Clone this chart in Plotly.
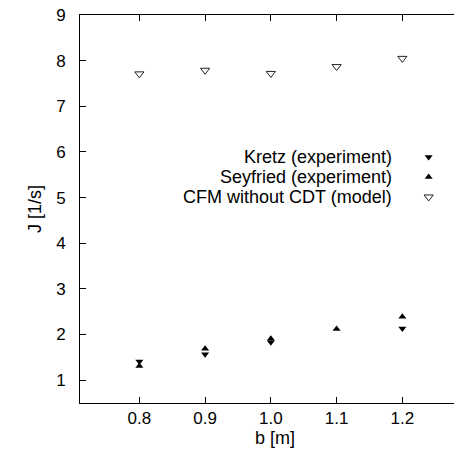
import plotly.graph_objects as go

# Data
kretz_b = [0.8, 0.9, 1.0, 1.2]
kretz_J = [1.41, 1.57, 1.83, 2.13]
seyfried_b = [0.8, 0.9, 1.0, 1.1, 1.2]
seyfried_J = [1.31, 1.69, 1.91, 2.12, 2.39]
cfm_b = [0.8, 0.9, 1.0, 1.1, 1.2]
cfm_J = [7.71, 7.79, 7.72, 7.87, 8.05]

legend_names = ["Kretz (experiment)", "Seyfried (experiment)", "CFM without CDT (model)"]
x_ticks = [0.8, 0.9, 1.0, 1.1, 1.2]
x_ticktext = ["0.8", "0.9", "1.0", "1.1", "1.2"]
y_ticks = [1, 2, 3, 4, 5, 6, 7, 8, 9]

FONT = "Liberation Sans, Arial, sans-serif"
FS = 18
TFS = 17

fig = go.Figure()
fig.add_trace(go.Scatter(x=kretz_b, y=kretz_J, mode="markers",
                         marker=dict(symbol="triangle-down", size=7, color="black"),
                         showlegend=False))
fig.add_trace(go.Scatter(x=seyfried_b, y=seyfried_J, mode="markers",
                         marker=dict(symbol="triangle-up", size=7, color="black"),
                         showlegend=False))
fig.add_trace(go.Scatter(x=cfm_b, y=cfm_J, mode="markers",
                         marker=dict(symbol="triangle-down", size=8, color="white",
                                     line=dict(color="#222", width=1)),
                         showlegend=False))

# Legend key (overlay axes in fractional coordinates)
leg_y = [0.634, 0.5825, 0.531]
leg_x = [0.894, 0.894, 0.894]
fig.add_trace(go.Scatter(x=[leg_x[0]], y=[leg_y[0]], xaxis="x2", yaxis="y2", mode="markers",
                         marker=dict(symbol="triangle-down", size=7, color="black"), showlegend=False))
fig.add_trace(go.Scatter(x=[leg_x[1]], y=[leg_y[1]], xaxis="x2", yaxis="y2", mode="markers",
                         marker=dict(symbol="triangle-up", size=7, color="black"), showlegend=False))
fig.add_trace(go.Scatter(x=[leg_x[2]], y=[leg_y[2]], xaxis="x2", yaxis="y2", mode="markers",
                         marker=dict(symbol="triangle-down", size=8, color="white",
                                     line=dict(color="#222", width=1)), showlegend=False))

for name, yy in zip(legend_names, leg_y):
    fig.add_annotation(text=name, xref="x2", yref="y2", x=0.805, y=yy,
                       xanchor="right", yanchor="middle", showarrow=False,
                       font=dict(family=FONT, size=FS, color="black"))

fig.update_layout(
    width=462, height=461,
    margin=dict(l=72, r=0, t=7, b=66),
    paper_bgcolor="white", plot_bgcolor="white",
    font=dict(family=FONT, size=FS, color="black"),
    xaxis=dict(range=[0.7097, 1.3029], tickvals=x_ticks, ticktext=x_ticktext,
               ticks="inside", ticklen=6, tickcolor="black", showline=True, linecolor="black",
               linewidth=1, mirror="ticks", showgrid=False, zeroline=False,
               tickfont=dict(family=FONT, size=TFS),
               ticklabelstandoff=0, ticklabeloverflow="allow",
               title=dict(text="b [m]", font=dict(family=FONT, size=FS), standoff=1)),
    yaxis=dict(range=[0.5, 9], tickvals=y_ticks, ticks="inside", ticklen=6, tickcolor="black",
               showline=True, linecolor="black", linewidth=1, showgrid=False, zeroline=False,
               tickfont=dict(family=FONT, size=TFS),
               ticklabelstandoff=10, ticklabeloverflow="allow", automargin=False,
               title=dict(text="J [1/s]", font=dict(family=FONT, size=FS), standoff=9)),
    xaxis2=dict(range=[0, 1], overlaying="x", visible=False, fixedrange=True),
    yaxis2=dict(range=[0, 1], overlaying="y", visible=False, fixedrange=True),
)

fig.write_html("out.html")
